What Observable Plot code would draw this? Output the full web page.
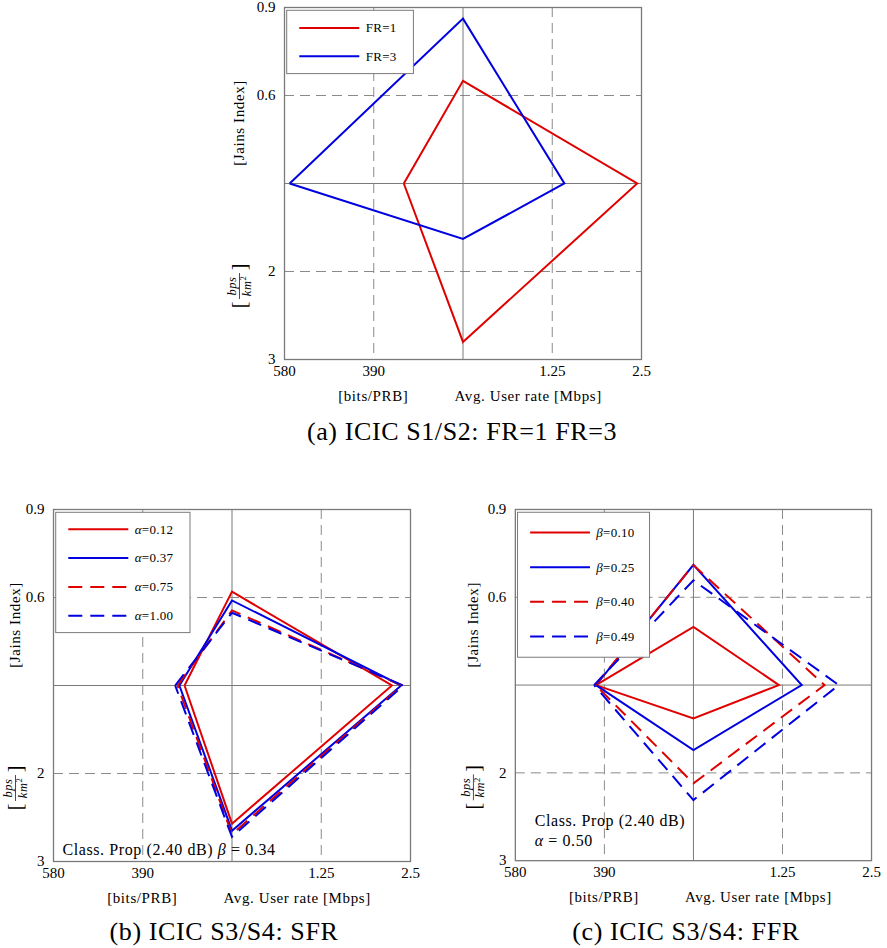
<!DOCTYPE html>
<html>
<head>
<meta charset="utf-8">
<script src="https://cdn.jsdelivr.net/npm/d3@7"></script>
<script src="https://cdn.jsdelivr.net/npm/@observablehq/plot@0.6"></script>
<style>
  body { margin: 0; background: #fff; }
  #page { position: relative; width: 887px; height: 948px; overflow: hidden; background: #fff; }
  .panel { position: absolute; }
  #overlay { position: absolute; left: 0; top: 0; pointer-events: none; }
</style>
</head>
<body>
<div id="page"></div>
<script>
// ---- Radar axes: value at the centre and value at the frame edge ----
const prbAxis = [200, 580];      // left:   spectral efficiency [bits/PRB]
const jainAxis = [0.3, 0.9];     // top:    Jain's fairness index
const rateAxis = [0, 2.5];       // right:  avg. user rate [Mbps]
const densityAxis = [1, 3];      // bottom: area throughput [bps/km²]

const prbTicks = [390, 580];
const jainTicks = [0.6, 0.9];
const rateTicks = [1.25, 2.5];
const densityTicks = [2, 3];

// ---- (a) frequency reuse ----
const frNames = ["FR=1", "FR=3"];
const frPrb = [326, 569];
const frJain = [0.65, 0.862];
const frRate = [2.44, 1.42];
const frDensity = [2.80, 1.63];

// ---- (b) soft frequency reuse ----
const sfrNames = ["α=0.12", "α=0.37", "α=0.75", "α=1.00"];
const sfrPrb = [301, 312, 316, 321];
const sfrJain = [0.62, 0.59, 0.556, 0.548];
const sfrRate = [2.24, 2.37, 2.38, 2.40];
const sfrDensity = [2.57, 2.65, 2.69, 2.72];

// ---- (c) fractional frequency reuse ----
const ffrNames = ["β=0.10", "β=0.25", "β=0.40", "β=0.49"];
const ffrPrb = [408, 408, 409, 412];
const ffrJain = [0.499, 0.711, 0.71, 0.658];
const ffrRate = [1.20, 1.52, 1.84, 2.04];
const ffrDensity = [1.38, 1.74, 2.12, 2.31];

const captions = ["(a) ICIC S1/S2: FR=1 FR=3", "(b) ICIC S3/S4: SFR", "(c) ICIC S3/S4: FFR"];

// ---- styles ----
const RED = "#e00000", BLUE = "#0000e0";
const seriesColors = [RED, BLUE, RED, BLUE];
const seriesDashed = [false, false, true, true];
const GRID = "#8a8a8a", AXIS = "#7a7a7a";
const FONT = "'Liberation Serif', 'DejaVu Serif', serif";
const FRAME_W = 357, FRAME_H = 352;
const M = {left: 70, right: 16, top: 12, bottom: 50};

const norm = (axis, v) => (v - axis[0]) / (axis[1] - axis[0]);

function polygon(p, i) {
  const left = {x: -norm(prbAxis, p.prb[i]), y: 0};
  return [
    left,
    {x: 0, y: norm(jainAxis, p.jain[i])},
    {x: norm(rateAxis, p.rate[i]), y: 0},
    {x: 0, y: -norm(densityAxis, p.density[i])},
    left
  ];
}

// tick positions on the shared [-1, 1] frame, with the axis value each one shows
const xTicks = [
  ...prbTicks.map(v => [-norm(prbAxis, v), v]),
  ...rateTicks.map(v => [norm(rateAxis, v), v])
];
const yTicks = [
  ...jainTicks.map(v => [norm(jainAxis, v), v]),
  ...densityTicks.map(v => [-norm(densityAxis, v), v])
];
const xLabel = new Map(xTicks), yLabel = new Map(yTicks);

function labelText(sel, name) {
  // Greek parameter symbol set in italics, like a math symbol
  if (/^[α-ω]/.test(name)) {
    sel.append("tspan").attr("font-style", "italic").text(name[0]);
    sel.append("tspan").text(name.slice(1));
  } else sel.text(name);
}

const panels = [
  {names: frNames, prb: frPrb, jain: frJain, rate: frRate, density: frDensity,
   frame: [284, 7], yLabelDx: -45,
   legend: {width: 126.7, height: 63.3, first: 17.6, gap: 28.4},
   note: null, caption: captions[0], captionAt: [462, 440]},
  {names: sfrNames, prb: sfrPrb, jain: sfrJain, rate: sfrRate, density: sfrDensity,
   frame: [53.4, 509.3], yLabelDx: -38,
   legend: {width: 134.3, height: 120.3, first: 17, gap: 28.8},
   note: {dx: 9.4, lines: [[["Class. Prop (2.40 dB) ", false], ["β", true], [" = 0.34", false]]], baselines: [-6]},
   caption: captions[1], captionAt: [224, 940]},
  {names: ffrNames, prb: ffrPrb, jain: ffrJain, rate: ffrRate, density: ffrDensity,
   frame: [515, 509.3], yLabelDx: -42,
   legend: {width: 132.3, height: 145.3, first: 20.4, gap: 34.7},
   note: {dx: 20, lines: [[["Class. Prop (2.40 dB)", false]], [["α", true], [" = 0.50", false]]], baselines: [-34, -14]},
   caption: captions[2], captionAt: [686, 940]}
];

const page = document.getElementById("page");

for (const p of panels) {
  const lines = p.names.map((name, i) => Plot.line(polygon(p, i), {
    x: "x", y: "y",
    stroke: seriesColors[i],
    strokeWidth: 2,
    strokeDasharray: seriesDashed[i] ? "14,8" : undefined,
    strokeLinejoin: "miter",
    strokeMiterlimit: 10,
    strokeLinecap: "butt"
  }));

  const svg = Plot.plot({
    width: M.left + FRAME_W + M.right,
    height: M.top + FRAME_H + M.bottom,
    marginLeft: M.left, marginRight: M.right, marginTop: M.top, marginBottom: M.bottom,
    style: {fontFamily: FONT, fontSize: "15px", background: "transparent", color: "black"},
    x: {domain: [-1, 1]},
    y: {domain: [-1, 1]},
    marks: [
      Plot.ruleX(xTicks.map(d => d[0]).filter(v => Math.abs(v) < 1), {stroke: GRID, strokeWidth: 1, strokeDasharray: "10,6"}),
      Plot.ruleY(yTicks.map(d => d[0]).filter(v => Math.abs(v) < 1), {stroke: GRID, strokeWidth: 1, strokeDasharray: "10,6"}),
      Plot.ruleX([0], {stroke: AXIS, strokeWidth: 1}),
      Plot.ruleY([0], {stroke: AXIS, strokeWidth: 1}),
      ...lines,
      Plot.frame({stroke: AXIS, strokeWidth: 1.3}),
      Plot.axisX(xTicks.map(d => d[0]), {tickSize: 0, tickPadding: 6, tickFormat: v => String(xLabel.get(v)), label: null}),
      Plot.axisY(yTicks.map(d => d[0]), {tickSize: 0, tickPadding: 9, tickFormat: v => String(yLabel.get(v)), label: null})
    ]
  });

  const root = d3.select(svg);
  const fx = M.left, fy = M.top;
  const txt = (g) => g.attr("font-family", FONT).attr("fill", "black").attr("text-anchor", "start");

  // axis titles below the frame
  txt(root.append("text"))
    .attr("x", fx + FRAME_W * 0.25).attr("y", fy + FRAME_H + 42)
    .attr("text-anchor", "middle").attr("font-size", 15).attr("letter-spacing", "0.6px")
    .text("[bits/PRB]");
  txt(root.append("text"))
    .attr("x", fx + FRAME_W * 0.5 - 8).attr("y", fy + FRAME_H + 42)
    .attr("font-size", 15).attr("letter-spacing", "0.6px")
    .text("Avg. User rate [Mbps]");

  // rotated titles on the left
  const jx = fx + p.yLabelDx, jy = fy + 116;
  txt(root.append("text"))
    .attr("transform", `translate(${jx},${jy}) rotate(-90)`)
    .attr("y", 5).attr("text-anchor", "middle").attr("font-size", 15).attr("letter-spacing", "0.6px")
    .text("[Jains Index]");

  const dg = root.append("g").attr("transform", `translate(${fx + p.yLabelDx},${fy + 279}) rotate(-90)`);
  txt(dg.append("text")).attr("x", -19).attr("y", 7).attr("text-anchor", "middle").attr("font-size", 20).text("[");
  txt(dg.append("text")).attr("x", 19).attr("y", 7).attr("text-anchor", "middle").attr("font-size", 20).text("]");
  txt(dg.append("text")).attr("x", 0).attr("y", -3).attr("text-anchor", "middle")
    .attr("font-size", 12.5).attr("font-style", "italic").attr("letter-spacing", "0.5px").text("bps");
  dg.append("line").attr("x1", -13).attr("x2", 13).attr("y1", 0.5).attr("y2", 0.5)
    .attr("stroke", "black").attr("stroke-width", 0.7);
  const den = txt(dg.append("text")).attr("x", 0).attr("y", 11.5).attr("text-anchor", "middle")
    .attr("font-size", 12.5).attr("font-style", "italic").attr("letter-spacing", "0.5px");
  den.append("tspan").text("km");
  den.append("tspan").attr("dy", -4.5).attr("font-size", 8.5).attr("font-style", "normal").text("2");

  // legend box in the top-left corner
  const L = p.legend;
  const lg = root.append("g").attr("transform", `translate(${fx + 2.7},${fy + 3.3})`);
  lg.append("rect").attr("width", L.width).attr("height", L.height)
    .attr("fill", "white").attr("stroke", AXIS).attr("stroke-width", 1);
  p.names.forEach((name, i) => {
    const y = L.first + i * L.gap;
    lg.append("line").attr("x1", 12.6).attr("x2", 72.6).attr("y1", y).attr("y2", y)
      .attr("stroke", seriesColors[i]).attr("stroke-width", 2)
      .attr("stroke-dasharray", seriesDashed[i] ? "14,8" : null);
    const t = txt(lg.append("text")).attr("x", 79).attr("y", y).attr("dy", "0.33em")
      .attr("font-size", 13).attr("letter-spacing", "0.3px");
    labelText(t, name);
  });

  // scenario note in the bottom-left corner
  if (p.note) {
    p.note.lines.forEach((parts, k) => {
      const t = txt(root.append("text")).attr("x", fx + p.note.dx)
        .attr("y", fy + FRAME_H + p.note.baselines[k])
        .attr("font-size", 16).attr("letter-spacing", "0.6px");
      parts.forEach(([s, it]) => t.append("tspan").attr("font-style", it ? "italic" : null).text(s));
    });
  }

  const holder = document.createElement("div");
  holder.className = "panel";
  holder.style.left = (p.frame[0] - M.left) + "px";
  holder.style.top = (p.frame[1] - M.top) + "px";
  holder.appendChild(svg);
  page.appendChild(holder);
}

// sub-figure captions
const overlay = d3.select(page).append("svg").attr("id", "overlay").attr("width", 887).attr("height", 948);
panels.forEach(p => {
  overlay.append("text")
    .attr("x", p.captionAt[0]).attr("y", p.captionAt[1])
    .attr("text-anchor", "middle")
    .attr("font-family", FONT).attr("font-size", 26).attr("letter-spacing", "0.6px")
    .attr("fill", "black")
    .text(p.caption);
});
</script>
</body>
</html>
